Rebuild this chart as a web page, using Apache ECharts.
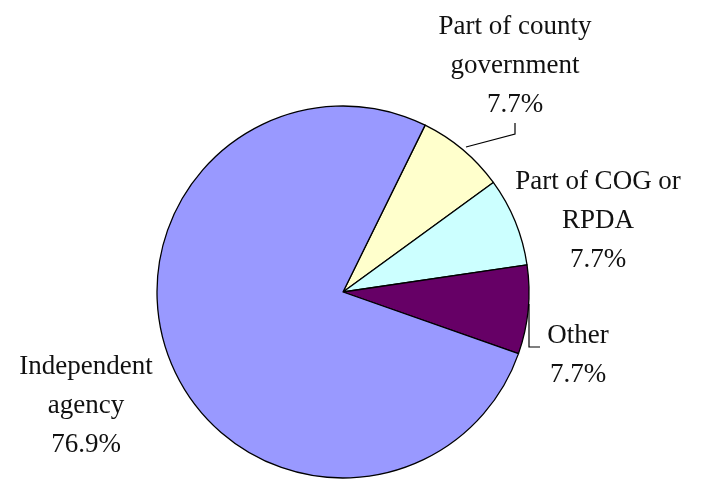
<!DOCTYPE html>
<html><head><meta charset="utf-8">
<script src="https://cdn.jsdelivr.net/npm/echarts@6/dist/echarts.min.js"></script>
<style>html,body{margin:0;padding:0;background:#fff}#c{width:706px;height:479px}</style>
</head><body><div id="c"></div>
<script>
const categories = ["Part of county\ngovernment", "Part of COG or\nRPDA", "Other", "Independent\nagency"];
const values = [7.7, 7.7, 7.7, 76.9];
const colors = ["#FFFFCC", "#CCFFFF", "#660066", "#9999FF"];

const labelPos = [[515, 66], [598, 221], [578, 355], [86, 406]];
const leader = [
  [[466, 147], [515, 134], [515, 123]],
  null,
  [[529, 304], [529, 347], [540, 347]],
  null
];

const chart = echarts.init(document.getElementById('c'));
chart.setOption({
  animation: false,
  series: [{
    type: 'pie',
    center: [343, 292],
    radius: 186,
    startAngle: 63.8,
    clockwise: true,
    data: categories.map((n, i) => ({
      name: n, value: values[i],
      itemStyle: { color: colors[i] },
      labelLine: { show: !!leader[i] }
    })),
    itemStyle: { borderColor: '#000', borderWidth: 1.3 },
    label: {
      show: true,
      position: 'outside',
      formatter: p => p.name + '\n' + p.value.toFixed(1) + '%',
      fontFamily: 'Liberation Serif',
      fontSize: 27,
      lineHeight: 39,
      color: '#111',
      align: 'center',
      verticalAlign: 'middle',
      overflow: 'none',
      edgeDistance: 0
    },
    labelLine: { show: true, lineStyle: { color: '#000', width: 1.2 }, length: 10, length2: 10 },
    labelLayout: p => {
      const i = p.dataIndex;
      const o = { x: labelPos[i][0], y: labelPos[i][1], align: 'center', verticalAlign: 'middle', hideOverlap: false, moveOverlap: null };
      if (leader[i]) o.labelLinePoints = leader[i];
      return o;
    },
    emphasis: { disabled: true }
  }]
});
</script></body></html>
